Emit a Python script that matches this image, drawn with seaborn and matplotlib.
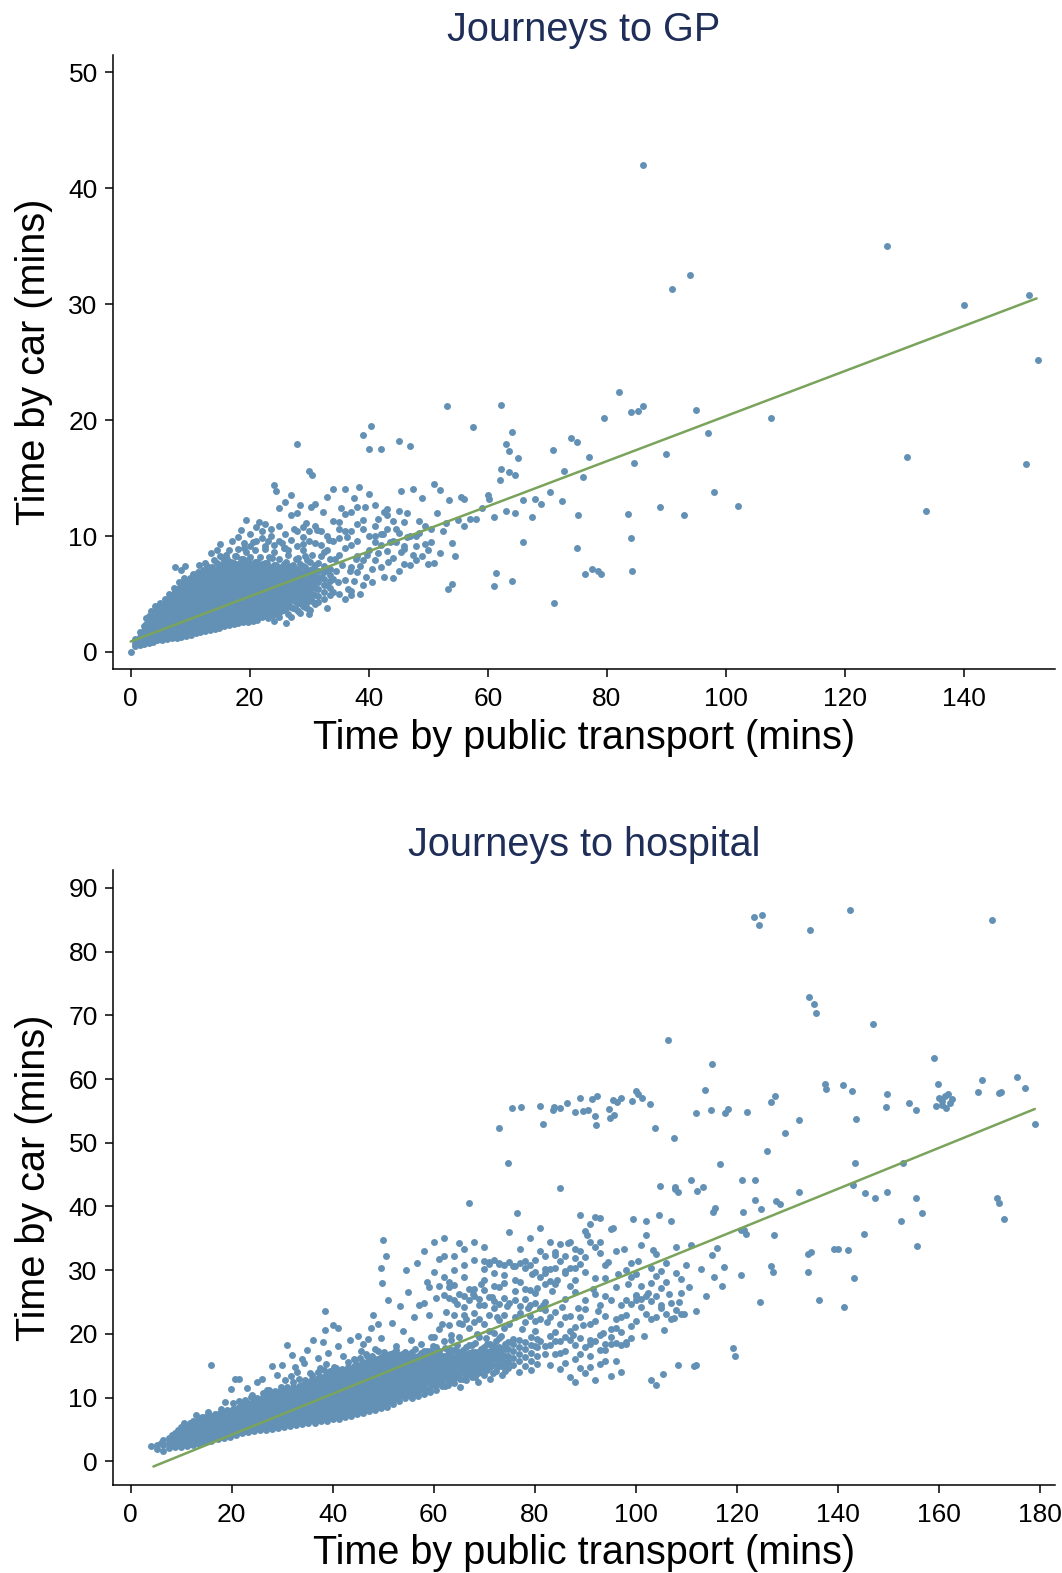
import matplotlib
matplotlib.use("Agg")
import matplotlib.pyplot as plt
import seaborn as sns
import pandas as pd

# journeys to GP: dense core typed column by column (public transport time -> car times)
gp_col_x = [0.0, 0.8, 1.5, 2.2, 3.0, 3.7, 4.5, 5.3, 6.1, 6.9, 7.7, 8.5, 9.3, 10.1, 10.9, 11.7, 12.5, 13.3, 14.1, 14.9,
	15.7, 16.5, 17.3, 18.1, 18.9, 19.7, 20.5, 21.3, 22.1, 22.9, 23.7, 24.5, 25.3, 26.1, 26.9, 27.7, 28.5, 29.3, 30.1, 30.9]
gp_col_y = [
	[0.0],
	[0.5, 0.8, 1.1],
	[0.6, 1.0, 1.3, 1.7],
	[0.7, 1.0, 1.4, 1.8, 2.2],
	[0.8, 1.2, 1.5, 1.9, 2.3, 2.7, 3.1],
	[0.9, 1.3, 1.7, 2.1, 2.5, 2.9, 3.3],
	[1.0, 1.4, 1.8, 2.2, 2.6, 3.0, 3.3, 3.7],
	[1.0, 1.4, 1.8, 2.2, 2.6, 3.0, 3.4, 3.8, 4.0],
	[1.1, 1.5, 1.9, 2.3, 2.7, 3.1, 3.5, 3.9, 4.3],
	[1.2, 1.6, 2.0, 2.4, 2.8, 3.2, 3.6, 4.0, 4.4, 4.8],
	[1.2, 1.6, 2.0, 2.4, 2.8, 3.2, 3.6, 4.0, 4.4, 4.8, 5.2],
	[1.3, 1.7, 2.1, 2.5, 2.9, 3.3, 3.7, 4.1, 4.5, 4.9, 5.3, 5.6],
	[1.4, 1.8, 2.2, 2.6, 3.0, 3.4, 3.8, 4.2, 4.6, 5.0, 5.4, 5.8],
	[1.5, 1.9, 2.3, 2.7, 3.1, 3.5, 3.9, 4.3, 4.7, 5.1, 5.5, 5.9, 6.2],
	[1.6, 2.0, 2.4, 2.8, 3.2, 3.6, 4.0, 4.4, 4.8, 5.2, 5.6, 6.0, 6.4],
	[1.7, 2.1, 2.5, 2.9, 3.3, 3.7, 4.1, 4.5, 4.9, 5.3, 5.7, 6.1, 6.5],
	[1.8, 2.2, 2.6, 3.0, 3.4, 3.8, 4.2, 4.6, 5.0, 5.4, 5.8, 6.2, 6.6, 6.9],
	[1.9, 2.3, 2.7, 3.1, 3.5, 3.9, 4.3, 4.7, 5.1, 5.5, 5.9, 6.3, 6.7, 7.1],
	[2.0, 2.4, 2.8, 3.2, 3.6, 4.0, 4.4, 4.8, 5.2, 5.6, 6.0, 6.4, 6.8, 7.0],
	[2.1, 2.5, 2.9, 3.3, 3.7, 4.1, 4.5, 4.9, 5.3, 5.7, 6.1, 6.5, 6.9, 7.3],
	[2.2, 2.6, 3.0, 3.4, 3.8, 4.2, 4.6, 5.0, 5.4, 5.8, 6.2, 6.6, 7.0, 7.4],
	[2.3, 2.7, 3.1, 3.5, 3.9, 4.3, 4.7, 5.1, 5.5, 5.9, 6.3, 6.7, 7.1, 7.5],
	[2.4, 2.8, 3.2, 3.6, 4.0, 4.4, 4.8, 5.2, 5.6, 6.0, 6.4, 6.8, 7.2, 7.7],
	[2.5, 2.9, 3.3, 3.7, 4.1, 4.5, 4.9, 5.3, 5.7, 6.1, 6.5, 6.9, 7.3, 7.6],
	[2.6, 3.0, 3.4, 3.8, 4.2, 4.6, 5.0, 5.4, 5.8, 6.2, 6.6, 7.0, 7.4, 8.0],
	[2.6, 3.0, 3.4, 3.8, 4.2, 4.6, 5.0, 5.4, 5.8, 6.2, 6.6, 7.0, 7.4, 7.9],
	[2.7, 3.1, 3.5, 3.9, 4.3, 4.7, 5.1, 5.5, 5.9, 6.3, 6.7, 7.1, 7.6],
	[2.8, 3.2, 3.6, 4.0, 4.4, 4.8, 5.2, 5.6, 6.0, 6.4, 6.8, 7.2, 7.8],
	[3.0, 3.4, 3.8, 4.2, 4.6, 5.0, 5.4, 5.8, 6.2, 6.6, 7.0, 7.6],
	[3.1, 3.5, 3.9, 4.3, 4.7, 5.1, 5.5, 5.9, 6.3, 6.7, 7.1, 7.7],
	[3.2, 3.6, 4.0, 4.4, 4.8, 5.2, 5.6, 6.0, 6.4, 6.8, 7.2, 8.1],
	[3.3, 3.7, 4.1, 4.5, 4.9, 5.3, 5.7, 6.1, 6.5, 6.9, 7.5],
	[3.5, 4.0, 4.4, 4.8, 5.2, 5.6, 6.0, 6.4, 6.8, 7.3],
	[2.5, 3.8, 4.2, 4.6, 5.0, 5.4, 5.8, 6.2, 6.6, 7.0, 7.8],
	[3.0, 3.9, 4.5, 4.9, 5.3, 5.7, 6.1, 6.5, 6.9, 7.4],
	[3.7, 4.3, 4.7, 5.1, 5.5, 5.9, 6.3, 6.7, 7.2, 8.0],
	[3.4, 4.2, 4.8, 5.2, 5.6, 6.0, 6.4, 6.9, 7.6],
	[3.9, 4.4, 5.0, 5.4, 5.9, 6.3, 6.8, 7.3, 8.3],
	[3.6, 4.6, 5.1, 5.7, 6.2, 6.7, 7.1, 7.8],
	[4.1, 4.9, 5.5, 6.0, 6.5, 7.0, 7.5],
]

# second pass over the GP core, points that sit between the columns above
gp_fill_x = [2.6, 3.4, 4.1, 4.9, 5.7, 6.5, 7.3, 8.1, 8.9, 9.7, 10.5, 11.3, 12.1, 12.9, 13.7, 14.5, 15.3, 16.1, 16.9, 17.7,
	18.5, 19.3, 20.1, 20.9, 21.7, 22.5, 23.3, 24.1, 24.9, 25.7, 26.5, 27.3, 28.1, 28.9, 29.7, 30.5, 31.5, 32.5, 33.5]
gp_fill_y = [
	[1.0, 1.6, 2.0, 2.4, 2.9],
	[1.1, 1.5, 1.9, 2.3, 2.7, 3.1, 3.5],
	[1.2, 1.6, 2.0, 2.4, 2.8, 3.2, 3.5, 4.0],
	[1.2, 1.6, 2.0, 2.4, 2.8, 3.2, 3.6, 4.2],
	[1.3, 1.7, 2.1, 2.5, 2.9, 3.3, 3.7, 4.1, 4.6],
	[1.4, 1.8, 2.2, 2.6, 3.0, 3.4, 3.8, 4.2, 4.6, 5.0],
	[1.4, 1.8, 2.2, 2.6, 3.0, 3.4, 3.8, 4.2, 4.6, 5.0, 5.5],
	[1.5, 1.9, 2.3, 2.7, 3.1, 3.5, 3.9, 4.3, 4.7, 5.1, 5.5, 6.0],
	[1.6, 2.0, 2.4, 2.8, 3.2, 3.6, 4.0, 4.4, 4.8, 5.2, 5.6, 6.0, 6.4],
	[1.7, 2.1, 2.5, 2.9, 3.3, 3.7, 4.1, 4.5, 4.9, 5.3, 5.7, 6.1],
	[1.8, 2.2, 2.6, 3.0, 3.4, 3.8, 4.2, 4.6, 5.0, 5.4, 5.8, 6.2, 6.7],
	[1.9, 2.3, 2.7, 3.1, 3.5, 3.9, 4.3, 4.7, 5.1, 5.5, 5.9, 6.3, 6.9],
	[2.0, 2.4, 2.8, 3.2, 3.6, 4.0, 4.4, 4.8, 5.2, 5.6, 6.0, 6.4, 6.8, 7.1],
	[2.1, 2.5, 2.9, 3.3, 3.7, 4.1, 4.5, 4.9, 5.3, 5.7, 6.1, 6.5, 6.9, 7.4],
	[2.2, 2.6, 3.0, 3.4, 3.8, 4.2, 4.6, 5.0, 5.4, 5.8, 6.2, 6.6, 7.0, 7.3],
	[2.3, 2.7, 3.1, 3.5, 3.9, 4.3, 4.7, 5.1, 5.5, 5.9, 6.3, 6.7, 7.1, 7.7],
	[2.4, 2.8, 3.2, 3.6, 4.0, 4.4, 4.8, 5.2, 5.6, 6.0, 6.4, 6.8, 7.2, 7.6],
	[2.5, 2.9, 3.3, 3.7, 4.1, 4.5, 4.9, 5.3, 5.7, 6.1, 6.5, 6.9, 7.3, 8.0],
	[2.6, 3.0, 3.4, 3.8, 4.2, 4.6, 5.0, 5.4, 5.8, 6.2, 6.6, 7.0, 7.4, 7.8],
	[2.7, 3.1, 3.5, 3.9, 4.3, 4.7, 5.1, 5.5, 5.9, 6.3, 6.7, 7.1, 7.5, 8.3],
	[2.8, 3.2, 3.6, 4.0, 4.4, 4.8, 5.2, 5.6, 6.0, 6.4, 6.8, 7.2, 7.6, 8.0],
	[2.8, 3.2, 3.6, 4.0, 4.4, 4.8, 5.2, 5.6, 6.0, 6.4, 6.8, 7.2, 7.6, 8.6],
	[2.9, 3.3, 3.7, 4.1, 4.5, 4.9, 5.3, 5.7, 6.1, 6.5, 6.9, 7.3, 7.7, 8.2],
	[3.0, 3.4, 3.8, 4.2, 4.6, 5.0, 5.4, 5.8, 6.2, 6.6, 7.0, 7.4, 7.8, 8.8],
	[3.1, 3.5, 3.9, 4.3, 4.7, 5.1, 5.5, 5.9, 6.3, 6.7, 7.1, 7.5, 8.2],
	[3.2, 3.6, 4.0, 4.4, 4.8, 5.2, 5.6, 6.0, 6.4, 6.8, 7.2, 7.7, 8.9],
	[3.3, 3.7, 4.1, 4.5, 4.9, 5.3, 5.7, 6.1, 6.5, 6.9, 7.3, 8.2],
	[3.4, 3.8, 4.2, 4.6, 5.0, 5.4, 5.8, 6.2, 6.6, 7.0, 7.5, 8.6],
	[3.5, 3.9, 4.3, 4.7, 5.1, 5.5, 5.9, 6.3, 6.7, 7.2, 8.0],
	[3.6, 4.1, 4.6, 5.0, 5.4, 5.8, 6.2, 6.6, 7.0, 7.6, 9.0],
	[3.3, 4.0, 4.4, 4.8, 5.2, 5.6, 6.0, 6.4, 6.8, 7.3, 8.4],
	[3.8, 4.5, 4.9, 5.3, 5.7, 6.1, 6.5, 6.9, 7.5],
	[3.5, 4.2, 4.7, 5.1, 5.5, 5.9, 6.3, 6.7, 7.1, 8.1],
	[4.0, 4.6, 5.2, 5.6, 6.0, 6.4, 6.8, 7.4, 8.8],
	[3.8, 4.3, 4.9, 5.3, 5.8, 6.2, 6.6, 7.0, 7.9],
	[4.4, 5.0, 5.6, 6.1, 6.6, 7.2, 8.4],
	[4.3, 4.8, 5.4, 6.0, 6.4, 7.0, 7.7],
	[4.6, 5.2, 5.8, 6.3, 6.9, 7.4, 8.6],
	[4.9, 5.5, 6.1, 6.6, 7.2, 8.0],
]

# scattered (public transport, car) points around the GP core
gp_points = [(4.4, 3.6), (7.5, 5.3), (7.5, 7.3), (8.5, 7.1), (9.2, 7.4), (10, 6.4), (11.5, 7.5), (12, 6.8), (13, 7.3), (13.5, 8.5), (14.5, 8.8), (15, 9.3),
	(15.5, 8.1), (16, 8.4), (16.5, 8.8), (17, 9.6), (17.5, 8.3), (18, 9.9), (18.5, 10.5), (19, 9.0), (19.3, 11.4), (20, 10.2), (20.5, 9.5), (21, 10.8), (21.5, 11.2),
	(22, 9.8), (22.5, 11.0), (23, 9.6), (23.5, 10.0), (24, 14.4), (24.5, 13.9), (25, 10.9), (25.5, 9.4), (26, 10.2), (26.5, 8.8), (27, 11.8), (27.5, 10.6), (28, 17.9),
	(28.4, 12.7), (29, 9.3), (29.5, 11.1), (30, 15.6), (30.5, 15.3), (31, 12.8), (31.3, 10.5), (32, 8.3), (32.3, 12.1), (33, 13.4), (33.4, 9.7), (34, 14.1), (34.4, 8.0),
	(35, 10.6), (35.3, 12.4), (36, 14.1), (36.3, 9.9), (37, 12.1), (37.5, 13.3), (38, 11.0), (38.3, 14.2), (39, 18.7), (39.4, 12.5), (40, 17.5), (40.4, 19.5), (41, 12.7),
	(41.5, 11.5), (42, 17.5), (42.4, 10.2), (43, 12.3), (43.5, 9.5), (44, 11.3), (44.5, 10.6), (45, 18.2), (45.5, 13.9), (46, 9.1), (46.5, 12.0), (47, 17.8), (47.4, 14.1),
	(48, 10.0), (48.5, 11.3), (49, 13.3), (49.5, 9.3), (50, 8.8), (50.5, 10.6), (51, 14.5), (51.5, 12.0), (52, 14.0), (52.5, 10.4), (53, 11.1), (53.5, 13.1), (54, 9.4),
	(54.5, 8.3), (55, 11.4), (55.5, 13.4), (56, 10.9), (58, 11.5), (59, 12.4), (31, 7.0), (32, 6.5), (33, 7.1), (34, 6.3), (35, 8.4), (36, 9.0), (37, 7.3), (38, 8.3),
	(39, 7.9), (40, 8.8), (41, 9.5), (42, 10.2), (28, 9.1), (29, 9.9), (30, 10.4), (31, 10.9), (33, 10.0), (35, 9.8), (37, 10.4), (39, 10.6), (41, 10.9), (43, 11.8),
	(45, 12.2), (33, 3.8), (35, 5.0), (37, 4.9), (39, 5.8), (44, 6.4), (47, 7.5), (50, 7.6), (52, 8.5), (23.5, 10.6), (25, 12.4), (26, 12.9), (27, 13.5), (28, 12.0),
	(23, 2.9), (24, 2.7), (25, 3.0), (34, 11.3), (36, 11.9), (38, 12.5), (40, 13.6), (42, 7.3), (43, 8.7), (46, 8.9), (48, 9.1), (49, 8.3), (51, 7.7), (30, 3.3), (31, 4.2),
	(36, 4.6), (22, 3.3), (33, 5.8), (37, 5.3), (30.3, 12.5), (42.5, 12.1), (44.5, 9.5), (46, 7.6), (48, 7.9), (34.5, 7.0), (36, 6.2), (38, 6.9), (41, 7.9),
	(34, 5.2), (34.8, 6.0), (35.5, 7.5), (36.5, 5.4), (36.8, 7.0), (37.5, 6.1), (37.8, 8.0), (38.5, 5.0), (38.6, 7.4), (39.5, 6.5), (39.7, 8.4), (40.5, 6.0), (40.6, 7.2), (41.5, 8.5), (42.5, 6.5),
	(43.2, 7.8), (44, 8.1), (45, 7.0), (45.5, 8.6), (46.5, 9.9), (47.5, 8.4), (48.5, 10.3), (49.5, 10.9), (50.5, 9.5), (32, 9.2), (33, 8.8), (34, 9.6), (35, 11.2), (36, 10.4), (37, 9.2),
	(38, 9.6), (39, 11.4), (40, 10.0), (41, 10.0), (42, 9.2), (43, 10.6), (44, 9.6), (45, 10.3), (46, 11.2), (47, 10.0), (22.5, 9.1), (24, 9.2), (25, 9.6), (26, 9.0), (27, 9.7), (28, 10.4),
	(29, 10.8), (30, 9.6), (31, 9.4), (32, 10.4), (18, 8.9), (19, 9.4), (20, 9.1), (21, 9.6), (22, 10.4), (15, 8.3), (16, 7.9), (14, 7.9), (12.5, 7.7)]

gp_far = [(86, 42), (127, 35), (94, 32.5), (91, 31.3), (151, 30.8), (140, 29.9), (152.5, 25.2), (82, 22.4), (86, 21.2), (84, 20.7), (85.2, 20.8), (53.2, 21.2),
	(62.2, 21.3), (95, 20.9), (107.5, 20.2), (79.5, 20.2), (57.5, 19.4), (64, 19.0), (97, 18.9), (63, 17.9), (74, 18.5), (75, 18.1), (71, 17.4), (65, 16.7), (77, 16.8),
	(90, 17.1), (130.5, 16.8), (150.5, 16.2), (84.5, 16.3), (72.8, 15.6), (76, 15.1), (98, 13.8), (70.5, 13.8), (69, 12.8), (72.5, 13.0), (66, 13.1), (67.5, 11.6),
	(75.2, 11.8), (83.5, 11.9), (89, 12.5), (93, 11.8), (102, 12.6), (133.7, 12.2), (84, 9.8), (66, 9.5), (75, 9.0), (84.2, 7.0), (77.5, 7.2), (76.3, 6.7), (78.5, 7.0),
	(79, 6.7), (64, 6.1), (61, 5.7), (61.3, 6.8), (71.2, 4.2), (54, 5.9), (53.3, 5.4), (63.5, 17.3), (62.3, 15.8), (63.5, 15.5), (64.5, 15.3), (60, 13.5), (60.2, 13.2),
	(62, 14.8), (61, 11.6), (63, 12.2), (64.5, 12.0), (68, 13.2), (56, 13.2), (57, 11.5)]
gp_fit_x = [0, 152.2]
gp_fit_y = [0.9, 30.5]

# journeys to hospital: dense band, column by column
hosp_col_x = [4, 5.2, 6.4, 7.6, 8.8, 10, 11.2, 12.4, 13.6, 14.8, 16, 17.2, 18.4, 19.6, 20.8, 22, 23.2, 24.4, 25.6, 26.8,
	28, 29.2, 30.4, 31.6, 32.8, 34, 35.2, 36.4, 37.6, 38.8, 40, 41.2, 42.4, 43.6, 44.8, 46, 47.2, 48.4, 49.6, 50.8,
	52, 53.2, 54.4, 55.6, 56.8, 58, 59.2, 60.4, 61.6, 62.8, 64, 65.2, 66.4, 67.6, 68.8, 70, 71.2, 72.4, 73.6, 74.8]
hosp_col_y = [
	[2.4],
	[1.9, 2.6],
	[1.7, 2.5, 3.3],
	[2.1, 2.9, 3.7],
	[2.2, 3.0, 3.8, 4.5],
	[2.3, 3.1, 3.9, 4.7, 5.4],
	[2.4, 3.2, 4.0, 4.8, 5.6],
	[2.6, 3.4, 4.2, 5.0, 5.8, 6.3],
	[2.8, 3.6, 4.4, 5.2, 6.0, 6.6],
	[3.0, 3.8, 4.6, 5.4, 6.2, 7.0],
	[3.2, 4.0, 4.8, 5.6, 6.4, 7.2],
	[3.5, 4.3, 5.1, 5.9, 6.7, 7.5],
	[3.7, 4.5, 5.3, 6.1, 6.9, 7.7],
	[3.9, 4.7, 5.5, 6.3, 7.1, 7.9],
	[4.2, 5.0, 5.8, 6.6, 7.4, 8.2],
	[4.4, 5.2, 6.0, 6.8, 7.6, 8.4, 9.0],
	[4.6, 5.4, 6.2, 7.0, 7.8, 8.6, 9.2],
	[4.8, 5.6, 6.4, 7.2, 8.0, 8.8, 9.6],
	[4.9, 5.7, 6.5, 7.3, 8.1, 8.9, 9.7],
	[5.0, 5.8, 6.6, 7.4, 8.2, 9.0, 9.8, 10.3],
	[5.1, 5.9, 6.7, 7.5, 8.3, 9.1, 9.9, 10.7],
	[5.3, 6.1, 6.9, 7.7, 8.5, 9.3, 10.1, 10.9],
	[5.4, 6.2, 7.0, 7.8, 8.6, 9.4, 10.2, 11.0],
	[5.6, 6.4, 7.2, 8.0, 8.8, 9.6, 10.4, 11.2],
	[5.7, 6.5, 7.3, 8.1, 8.9, 9.7, 10.5, 11.3],
	[5.9, 6.7, 7.5, 8.3, 9.1, 9.9, 10.7, 11.5, 12.0],
	[6.0, 6.8, 7.6, 8.4, 9.2, 10.0, 10.8, 11.6, 12.4],
	[6.1, 6.9, 7.7, 8.5, 9.3, 10.1, 10.9, 11.7, 12.5],
	[6.3, 7.1, 7.9, 8.7, 9.5, 10.3, 11.1, 11.9, 12.7, 13.2],
	[6.4, 7.2, 8.0, 8.8, 9.6, 10.4, 11.2, 12.0, 12.8, 13.6],
	[6.6, 7.4, 8.2, 9.0, 9.8, 10.6, 11.4, 12.2, 13.0, 13.8],
	[6.7, 7.5, 8.3, 9.1, 9.9, 10.7, 11.5, 12.3, 13.1, 13.9],
	[6.9, 7.7, 8.5, 9.3, 10.1, 10.9, 11.7, 12.5, 13.3, 14.1],
	[7.2, 8.0, 8.8, 9.6, 10.4, 11.2, 12.0, 12.8, 13.6, 14.4],
	[7.4, 8.2, 9.0, 9.8, 10.6, 11.4, 12.2, 13.0, 13.8, 14.6, 15.2],
	[7.6, 8.4, 9.2, 10.0, 10.8, 11.6, 12.4, 13.2, 14.0, 14.8, 15.6],
	[7.9, 8.7, 9.5, 10.3, 11.1, 11.9, 12.7, 13.5, 14.3, 15.1, 15.9],
	[8.1, 8.9, 9.7, 10.5, 11.3, 12.1, 12.9, 13.7, 14.5, 15.3, 16.1],
	[8.4, 9.2, 10.0, 10.8, 11.6, 12.4, 13.2, 14.0, 14.8, 15.6, 16.4],
	[8.6, 9.4, 10.2, 11.0, 11.8, 12.6, 13.4, 14.2, 15.0, 15.8, 16.6],
	[9.0, 9.8, 10.6, 11.4, 12.2, 13.0, 13.8, 14.6, 15.4, 16.2, 17.0],
	[9.5, 10.3, 11.1, 11.9, 12.7, 13.5, 14.3, 15.1, 15.9, 16.7],
	[9.9, 10.7, 11.5, 12.3, 13.1, 13.9, 14.7, 15.5, 16.3, 17.1],
	[10.0, 10.8, 11.6, 12.4, 13.2, 14.0, 14.8, 15.6, 16.4, 17.2],
	[10.2, 11.0, 11.8, 12.6, 13.4, 14.2, 15.0, 15.8, 16.6],
	[10.6, 11.4, 12.2, 13.0, 13.8, 14.6, 15.4, 16.2, 17.4],
	[10.9, 11.7, 12.5, 13.3, 14.1, 14.9, 15.7, 16.5, 17.3],
	[11.2, 12.0, 12.8, 13.6, 14.4, 15.2, 16.0, 16.8, 17.9],
	[11.8, 12.6, 13.4, 14.2, 15.0, 15.8, 16.6],
	[12.0, 12.8, 13.6, 14.4, 15.2, 16.0, 16.8, 17.6],
	[12.3, 13.1, 13.9, 14.7, 15.5, 16.3, 17.5],
	[11.7, 13.0, 13.8, 14.6, 15.4, 16.2, 17.0],
	[12.7, 13.5, 14.3, 15.1, 15.9, 16.7, 17.9],
	[13.2, 14.0, 14.8, 15.6, 16.4, 17.2, 18.2],
	[12.5, 13.9, 14.7, 15.5, 16.3, 17.1],
	[13.6, 14.4, 15.2, 16.0, 16.8, 17.9],
	[13.0, 14.8, 15.7, 16.5, 17.3, 18.4],
	[14.2, 15.1, 16.0, 16.9, 17.8, 18.9],
	[13.5, 14.9, 15.8, 16.7, 17.6],
	[14.6, 15.6, 16.6, 17.6, 18.8],
]

# second pass over the hospital band, points between the columns above
hosp_fill_x = [6, 8.2, 9.4, 10.6, 11.8, 13, 14.2, 15.4, 16.6, 17.8, 19, 20.2, 21.4, 22.6, 23.8, 25, 26.2, 27.4, 28.6, 29.8,
	31, 32.2, 33.4, 34.6, 35.8, 37, 38.2, 39.4, 40.6, 41.8, 43, 44.2, 45.4, 46.6, 47.8, 49, 50.2, 51.4, 52.6, 53.8,
	55, 56.2, 57.4, 58.6, 59.8, 61, 62.2, 63.4, 64.6, 65.8, 67, 68.2, 69.4, 70.6, 71.8, 73, 74.2, 75.6, 76.8, 78, 79.2, 80.4]
hosp_fill_y = [
	[2.9],
	[2.5, 3.3, 4.2],
	[2.6, 3.4, 4.2, 5.0],
	[2.7, 3.5, 4.3, 5.1, 6.0],
	[2.8, 3.6, 4.4, 5.2, 6.1],
	[2.9, 3.8, 4.6, 5.4, 6.2, 7.3],
	[3.2, 4.0, 4.8, 5.6, 6.4, 6.9],
	[3.4, 4.2, 5.0, 5.8, 6.6, 7.7],
	[3.6, 4.4, 5.2, 6.0, 6.8, 7.4],
	[3.9, 4.7, 5.5, 6.3, 7.1, 8.3],
	[4.1, 4.9, 5.7, 6.5, 7.3, 8.1],
	[4.3, 5.1, 5.9, 6.7, 7.5, 8.3, 9.1],
	[4.6, 5.4, 6.2, 7.0, 7.8, 8.6, 9.5],
	[4.8, 5.6, 6.4, 7.2, 8.0, 8.8, 9.7],
	[5.0, 5.8, 6.6, 7.4, 8.2, 9.0, 10.1],
	[5.2, 6.0, 6.8, 7.6, 8.4, 9.2, 10.0],
	[5.3, 6.1, 6.9, 7.7, 8.5, 9.3, 10.1, 10.8],
	[5.4, 6.2, 7.0, 7.8, 8.6, 9.4, 10.2, 11.2],
	[5.7, 6.5, 7.3, 8.1, 8.9, 9.7, 10.5, 11.1],
	[5.8, 6.6, 7.4, 8.2, 9.0, 9.8, 10.6, 11.7],
	[6.0, 6.8, 7.6, 8.4, 9.2, 10.0, 10.8, 11.6],
	[6.1, 6.9, 7.7, 8.5, 9.3, 10.1, 10.9, 11.7, 12.5],
	[6.3, 7.1, 7.9, 8.7, 9.5, 10.3, 11.1, 11.9, 12.9],
	[6.4, 7.2, 8.0, 8.8, 9.6, 10.4, 11.2, 12.0, 12.8],
	[6.5, 7.3, 8.1, 8.9, 9.7, 10.5, 11.3, 12.1, 12.9, 13.6],
	[6.7, 7.5, 8.3, 9.1, 9.9, 10.7, 11.5, 12.3, 13.1, 14.0],
	[6.8, 7.6, 8.4, 9.2, 10.0, 10.8, 11.6, 12.4, 13.2, 14.4],
	[7.0, 7.8, 8.6, 9.4, 10.2, 11.0, 11.8, 12.6, 13.4, 14.2],
	[7.1, 7.9, 8.7, 9.5, 10.3, 11.1, 11.9, 12.7, 13.5, 14.7],
	[7.3, 8.1, 8.9, 9.7, 10.5, 11.3, 12.1, 12.9, 13.7, 14.5],
	[7.6, 8.4, 9.2, 10.0, 10.8, 11.6, 12.4, 13.2, 14.0, 14.8, 15.6],
	[7.8, 8.6, 9.4, 10.2, 11.0, 11.8, 12.6, 13.4, 14.2, 15.0, 16.0],
	[8.0, 8.8, 9.6, 10.4, 11.2, 12.0, 12.8, 13.6, 14.4, 15.2, 16.2],
	[8.3, 9.1, 9.9, 10.7, 11.5, 12.3, 13.1, 13.9, 14.7, 15.5, 16.8],
	[8.5, 9.3, 10.1, 10.9, 11.7, 12.5, 13.3, 14.1, 14.9, 15.7, 16.5],
	[8.8, 9.6, 10.4, 11.2, 12.0, 12.8, 13.6, 14.4, 15.2, 16.0, 17.3],
	[9.2, 10.0, 10.8, 11.6, 12.4, 13.2, 14.0, 14.8, 15.6, 16.4, 17.2],
	[9.7, 10.5, 11.3, 12.1, 12.9, 13.7, 14.5, 15.3, 16.1, 16.9],
	[9.9, 10.7, 11.5, 12.3, 13.1, 13.9, 14.7, 15.5, 16.3, 17.5],
	[10.4, 11.2, 12.0, 12.8, 13.6, 14.4, 15.2, 16.0, 16.8],
	[10.4, 11.2, 12.0, 12.8, 13.6, 14.4, 15.2, 16.0, 16.9],
	[10.8, 11.6, 12.4, 13.2, 14.0, 14.8, 15.6, 16.4, 17.6],
	[11.3, 12.1, 12.9, 13.7, 14.5, 15.3, 16.1, 17.0],
	[11.0, 12.4, 13.2, 14.0, 14.8, 15.6, 16.4, 17.4],
	[12.2, 13.0, 13.8, 14.6, 15.4, 16.2, 17.0, 18.1],
	[12.5, 13.3, 14.1, 14.9, 15.7, 16.5, 17.3],
	[11.9, 13.4, 14.2, 15.0, 15.8, 16.6, 17.8],
	[12.7, 13.5, 14.3, 15.1, 15.9, 16.7, 17.5, 19.0],
	[13.3, 14.1, 14.9, 15.7, 16.5, 17.3, 18.3],
	[13.0, 14.3, 15.1, 15.9, 16.7, 17.5],
	[13.8, 14.6, 15.4, 16.2, 17.0, 18.2],
	[13.3, 14.4, 15.3, 16.2, 17.1, 18.6],
	[14.1, 15.0, 15.9, 16.8, 17.7],
	[14.4, 15.4, 16.3, 17.2, 18.4],
	[13.8, 15.2, 16.2, 17.2, 18.1],
	[15.0, 16.0, 17.0, 18.0, 19.3],
	[14.2, 15.5, 16.6, 17.7, 18.5],
	[15.2, 16.2, 17.3, 18.4, 19.2],
	[14.0, 15.7, 16.9, 18.0, 19.0],
	[15.0, 16.4, 17.6, 18.7],
	[14.4, 15.8, 17.0, 18.3, 19.5],
	[15.3, 16.6, 18.0, 19.2],
]

# scattered hospital points around the band and in the wide cloud
hosp_points = [(16, 15.2), (19.8, 11.4), (20.7, 13), (18.7, 9.4), (21.5, 12.9), (23, 11.5), (24, 10.5), (25, 12.4), (26, 13.0), (27, 11.2), (28, 14.9), (29, 13.6), (30, 15.2), (30.5, 12.8),
	(31, 18.2), (31.7, 13.4), (32, 16.7), (32.6, 14.8), (33, 14.0), (34, 16.1), (34.4, 15.5), (35, 17.5), (35.6, 13.9), (36, 19.0), (37, 16.3), (37.5, 14.6), (38, 18.7), (38.7, 15.3), (39, 17.0),
	(38.5, 20.6), (40.3, 14.8), (41, 18.1), (38.5, 23.6), (42, 16.5), (40, 21.4), (43.5, 19.0), (41, 21.0), (44.4, 15.9), (45, 19.7), (45.6, 17.3), (46, 18.4), (46.7, 16.6), (47, 19.2), (47.5, 21.0),
	(48, 23.0), (48.4, 17.6), (49, 21.5), (49.5, 19.4), (49.8, 28.0), (50, 34.7), (51, 25.4), (51.7, 21.7), (50.5, 32.3), (52.6, 18.1), (49.5, 30.4), (53.4, 24.4), (54, 20.5), (54.6, 30.0), (55, 26.6),
	(55.4, 19.0), (56, 22.7), (56.7, 31.2), (57, 24.5), (57.4, 18.5), (58, 33.0), (58.6, 28.2), (59, 22.9), (59.4, 19.6), (60, 34.4), (60.5, 25.6), (61, 31.8), (61.7, 21.5), (62, 35.1), (62.5, 23.5),
	(63, 27.4), (63.4, 19.9), (64, 32.3), (64.7, 24.7), (65, 34.3), (65.5, 21.6), (66, 30.8), (66.4, 22.3), (67, 40.6), (67.7, 26.3), (68, 31.6), (68.5, 20.0), (69, 24.6), (69.4, 27.8), (70, 33.6),
	(70.4, 19.4), (71, 31.3), (71.5, 25.8), (72, 29.5), (72.6, 22.6), (73, 31.0), (73.4, 19.7), (74, 28.0), (74.5, 24.4), (75, 36.0), (75.6, 30.7), (76, 26.8), (76.5, 39.0), (77, 33.4), (77.4, 20.8),
	(78, 31.5), (78.6, 24.0), (79, 35.1), (79.4, 29.4), (80, 22.0), (80.5, 27.2), (81, 36.6), (81.6, 24.5), (82, 30.2), (82.5, 21.9), (83, 34.5), (83.5, 26.7), (84, 32.9), (85, 42.9), (85.4, 24.2),
	(84.5, 28.4), (86, 22.6), (86.6, 34.2), (87, 27.5), (87.5, 19.8), (88, 31.9), (88.6, 24.0), (89, 38.7), (89.5, 21.4), (90, 29.7), (90.4, 35.5), (91, 19.1), (91.6, 27.0), (92, 33.6), (92.5, 23.6),
	(93, 38.2), (93.5, 20.2), (94, 26.0), (94.5, 31.3), (95, 18.5), (95.5, 36.7), (96, 22.3), (96.4, 29.4), (97, 24.6), (97.6, 33.3), (98, 18.5), (98.5, 27.9), (99, 21.2), (99.5, 38.0), (100, 25.4),
	(100.5, 31.5), (101, 24.2), (101.6, 19.7), (102, 37.8), (102.5, 26.5), (103, 22.4), (103.4, 33.1), (104, 29.1), (104.5, 38.6), (105, 24.5), (105.6, 20.6), (106, 31.2), (106.5, 26.3), (107, 37.8),
	(107.5, 22.5), (108, 33.7), (108.5, 25.0), (109, 28.6), (109.5, 23.2), (110, 30.8), (110.6, 27.4), (111, 34.0), (112, 23.6), (113, 30.2), (114, 26.0), (115, 32.4), (116, 33.5), (117, 27.6),
	(62, 26.1), (63, 25.7), (64, 25.4), (65, 26.2), (66, 25.9), (67, 25.3), (68, 26.0), (69, 25.5), (70, 24.6), (71, 25.8), (72, 25.2), (73, 24.7), (74, 25.6), (75, 24.9), (76, 25.3), (77, 24.4),
	(78, 25.5), (79, 24.6), (80, 24.8), (81, 24.1), (82, 25.0), (70, 31.5), (71, 31.0), (72, 31.6), (73, 31.2), (74, 30.8), (75, 31.3), (76, 30.6), (77, 31.1), (78, 30.3), (79, 30.8), (80, 29.7),
	(83, 22.6), (84, 20.3), (85, 21.5), (86, 19.6), (87, 22.8), (88, 21.1), (89, 19.4), (90, 23.9), (91, 18.4),
	(92, 22.1), (93, 19.9), (94, 18.5), (95, 20.8), (96, 18.6), (97, 22.7), (98, 18.8), (99, 19.3), (100, 26.1), (101, 25.5), (102, 26.0), (103, 25.1), (99, 24.7), (98, 25.4), (100, 25.9), (104, 22.7),
	(105, 24.1), (106, 23.1), (107, 22.4), (108, 23.8), (109, 23.2), (80, 26.5), (81, 28.9), (82, 27.8), (83, 30.2), (84, 32.4), (85, 34.1), (86, 29.6), (87, 34.5), (88, 33.4), (89, 31.0), (90, 36.1),
	(91, 34.5), (92, 28.8), (93, 32.7), (94, 30.8), (95, 36.4), (82, 18.1), (83, 15.2), (84, 16.8), (85, 14.5), (86, 17.4),
	(87, 13.2), (88, 16.0), (89, 14.6), (90, 13.8), (91, 16.6), (92, 12.8), (93, 15.3), (94, 17.5), (95, 13.4), (96, 15.8), (97, 14.1), (65, 21.7), (66, 22.9), (67, 20.9), (68, 23.3), (69, 19.5),
	(70, 21.5), (71, 23.0), (72, 20.2), (73, 22.2), (74, 21.0), (62, 29.0), (63, 28.2), (64, 27.7), (66, 28.9), (68, 27.0), (70, 28.4), (72, 27.6), (74, 29.2), (77, 28.1), (79, 26.9), (82, 29.5),
	(84, 27.8), (86, 29.9), (88, 30.4),
	(60, 19.5), (61, 20.7), (62, 18.9), (63, 21.4), (64, 23.0), (65, 19.6), (66, 24.2), (67, 27.0), (68, 21.8), (69, 22.4), (70, 26.9), (71, 20.5), (72, 24.0), (73, 27.4), (74, 23.0), (75, 21.5), (76, 22.6),
	(77, 23.3), (78, 21.9), (79, 22.8), (80, 20.4), (81, 22.4), (82, 23.7), (83, 19.7), (84, 23.4), (85, 18.9), (86, 25.5), (87, 20.4), (88, 26.6), (89, 22.6), (90, 25.4), (91, 21.5), (92, 26.3), (93, 24.5),
	(94, 22.8), (95, 25.4), (96, 27.4), (97, 20.3), (98, 23.0), (99, 28.9), (100, 22.0), (101, 27.6), (102, 23.2), (103, 28.0), (104, 25.9), (105, 27.2), (106, 28.2), (107, 24.8), (108, 29.6), (109, 26.4),
	(80, 18.1), (81, 18.9), (82, 16.8), (83, 18.3), (84, 18.9), (85, 17.0), (86, 15.4), (87, 19.0), (88, 18.2), (89, 16.9), (90, 18.0), (91, 14.8), (92, 18.9), (93, 17.5), (94, 15.8), (95, 19.5), (96, 20.9), (97, 18.2),
	(76, 28.5), (78, 27.0), (80, 31.6), (81, 33.0), (82, 32.3), (83, 28.3), (84, 30.4), (85, 31.4), (86, 32.2), (87, 30.4), (88, 28.4), (89, 33.0), (90, 32.0), (91, 37.2), (92, 38.4), (93, 34.5), (94, 28.8), (96, 33.0),
	(98, 30.0), (99, 31.2), (100, 29.4), (101, 33.9), (102, 35.5), (103, 30.3), (104, 32.5), (105, 29.9), (58, 24.8), (59, 27.3), (60, 29.8), (61, 27.5), (62, 32.2), (64, 30.0), (66, 33.4), (68, 34.4), (70, 30.2)]

hosp_far = [(123.5, 85.4), (125, 85.8), (124.3, 84.2), (134.5, 83.4), (142.5, 86.6), (170.5, 84.9), (134.3, 72.8), (135.3, 71.7), (135.7, 70.3), (147, 68.7), (106.4, 66.2), (115, 62.3),
	(159.1, 63.3), (113.8, 58.3), (127.5, 57.4), (126.7, 56.4), (137.4, 59.2), (137.7, 58.5), (141, 59), (142.9, 58.2), (72.9, 52.3), (75.4, 55.5), (77.2, 55.6), (81, 55.8), (81.7, 52.9), (83.9, 55.6),
	(83.6, 55.2), (85, 55.5), (86.4, 56.3), (88, 54.8), (89, 57.1), (89.6, 55), (90.6, 55.1), (91.3, 56.9), (92.4, 57.4), (91.9, 54.2), (92.1, 52.8), (94.7, 55.3), (94.9, 53.9), (95.7, 54.3), (95.4, 56.7),
	(96.2, 56.4), (97, 57.1), (99.3, 56.6), (100, 58.1), (100.4, 57.6), (101.2, 57), (102.8, 56.1), (103.9, 52.3), (107.6, 50.8), (111.9, 54.6), (114.8, 55.1), (117.6, 54.6), (118.2, 55.3), (122, 54.8),
	(132.4, 53.6), (129.5, 51.5), (126, 48.7), (116.6, 46.7), (143.6, 53.8), (149.7, 57.6), (149.6, 55.6), (154.1, 56.3), (155.5, 55.2), (159.8, 59.2), (160.1, 57.1), (161.9, 57.6), (161.2, 57.4),
	(160.7, 56.6), (162.7, 56.8), (162.2, 56.3), (159.5, 55.7), (161.5, 55.5), (160.6, 55.9), (167.7, 58), (168.6, 59.9), (171.9, 57.8), (172.3, 58), (175.5, 60.3), (177.1, 58.6), (179.1, 53), (143.5, 46.9),
	(152.9, 46.9), (121.1, 44.1), (123.7, 44.2), (111, 44.1), (104.8, 43.2), (107.8, 42.7), (108.3, 42.2), (107.8, 43), (112.2, 42.5), (113.3, 43), (132.3, 42.3), (143, 43.3), (145.3, 42.1), (147.4, 41.4),
	(149.7, 42.3), (155.4, 41.4), (171.5, 41.3), (172, 40.5), (172.9, 38.1), (156.6, 39), (152.5, 37.8), (145.1, 35.7), (155.7, 33.8), (139.3, 33.4), (140, 33.4), (142, 33.1), (134.1, 32.6), (134.6, 32.9),
	(126.7, 30.6), (127.1, 29.7), (134.1, 29.7), (143.2, 28.8), (120.8, 29.3), (117.4, 30.5), (115.5, 28.9), (127.4, 35.6), (120.9, 36.3), (121.4, 36.3), (121.8, 35.7), (123.6, 41), (127.8, 40.8), (128.6, 40.4),
	(124.8, 39.6), (121.2, 39.2), (115.2, 39.2), (115.7, 39.8), (74.8, 46.8), (136.2, 25.3), (141.3, 24.3), (119.2, 17.8), (119.7, 16.5), (111.5, 15), (112, 15.2), (108.3, 15.2), (103, 12.8), (105.4, 13.7),
	(104, 12), (88, 12.5), (124.6, 25)]
hosp_fit_x = [4.5, 179]
hosp_fit_y = [-0.8, 55.3]

panel_titles = ["Journeys to GP", "Journeys to hospital"]
x_label = "Time by public transport (mins)"
y_label = "Time by car (mins)"
gp_xticks = [0, 20, 40, 60, 80, 100, 120, 140]
gp_yticks = [0, 10, 20, 30, 40, 50]
hosp_xticks = [0, 20, 40, 60, 80, 100, 120, 140, 160, 180]
hosp_yticks = [0, 10, 20, 30, 40, 50, 60, 70, 80, 90]

BLUE = "#6391b5"
GREEN = "#7aa35c"
NAVY = "#1f2e58"
W, H = 1062, 1573


def column_pairs(col_x, col_y):
	return [(cx, v) for cx, ys in zip(col_x, col_y) for v in ys]


def draw(ax, pairs, fit_x, fit_y, title, xticks, yticks, xlim, ylim, xlabel_y):
	df = pd.DataFrame(pairs, columns=["pt", "car"])
	sns.scatterplot(data=df, x="pt", y="car", ax=ax, color=BLUE, s=25, linewidth=0, alpha=1)
	sns.lineplot(x=fit_x, y=fit_y, ax=ax, color=GREEN, lw=1.8, errorbar=None)
	ax.set_xlim(*xlim)
	ax.set_ylim(*ylim)
	ax.set_xticks(xticks)
	ax.set_yticks(yticks)
	ax.set_title(title, color=NAVY, fontsize=28.5, pad=10)
	ax.set_xlabel(x_label, fontsize=28.5, color="black", va="center")
	ax.set_ylabel(y_label, fontsize=28.5, color="black", va="center")
	ax.xaxis.set_label_coords(0.5, xlabel_y)
	ax.yaxis.set_label_coords(-0.084, 0.5)
	ax.tick_params(labelsize=19, length=6, width=1.1, color="black", labelcolor="black", left=True, bottom=True)
	ax.tick_params(axis="x", pad=7)
	ax.tick_params(axis="y", pad=5)
	sns.despine(ax=ax)
	for side in ["left", "bottom"]:
		ax.spines[side].set_linewidth(1.1)
		ax.spines[side].set_color("black")


sns.set_theme(style="white")
plt.rcParams["font.family"] = ["Liberation Sans", "DejaVu Sans"]

fig = plt.figure(figsize=(W / 100, H / 100), dpi=100)
ax1 = fig.add_axes([113 / W, 1 - 669 / H, (1055 - 113) / W, (669 - 55) / H])
ax2 = fig.add_axes([113 / W, 1 - 1485 / H, (1055 - 113) / W, (1485 - 870) / H])

gp = column_pairs(gp_col_x, gp_col_y) + column_pairs(gp_fill_x, gp_fill_y) + gp_points + gp_far
hosp = column_pairs(hosp_col_x, hosp_col_y) + column_pairs(hosp_fill_x, hosp_fill_y) + hosp_points + hosp_far
draw(ax1, gp, gp_fit_x, gp_fit_y, panel_titles[0], gp_xticks, gp_yticks, (-2.97, 155.3), (-1.47, 51.5), -0.112)
draw(ax2, hosp, hosp_fit_x, hosp_fit_y, panel_titles[1], hosp_xticks, hosp_yticks, (-3.5, 183), (-3.7, 92.8), -0.11)

fig.savefig("out.png", dpi=100)
